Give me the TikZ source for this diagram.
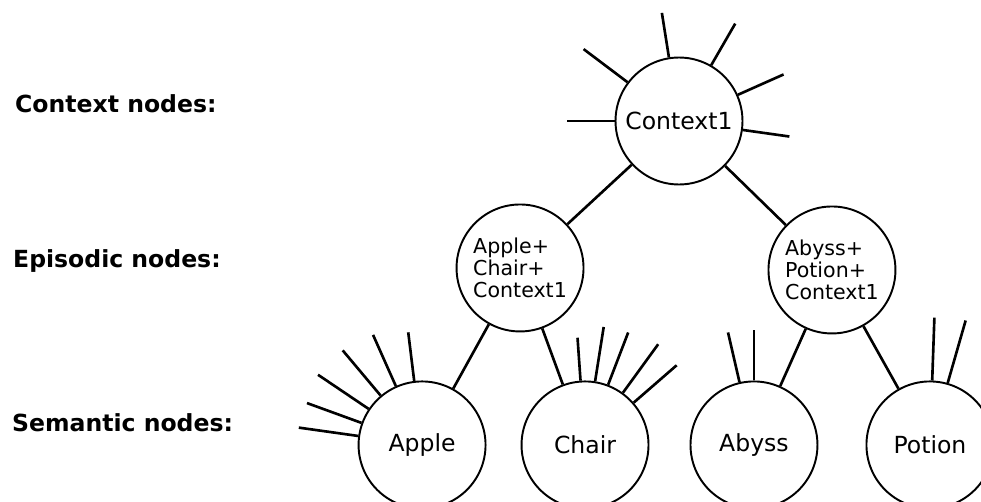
\documentclass[tikz,border=0pt]{standalone}
\usepackage{fontspec}
\setmainfont{DejaVu Sans}
\usetikzlibrary{positioning}

\tikzset{
  memnode/.style={circle, draw, line width=1.1pt, minimum size=2.54cm,
    inner sep=0pt, font=\fontsize{13.4}{16}\selectfont},
  epinode/.style={memnode, align=left, font=\fontsize{11.7}{12.4}\selectfont},
  link/.style={line width=1.5pt},
  layer/.style={anchor=base west, font=\bfseries\fontsize{13.4}{16}\selectfont},
}

\begin{document}
\begin{tikzpicture}[x=0.02cm, y=0.02cm, on grid]
   \useasboundingbox (0,0) rectangle (981,501);

   % layer captions
   \node[layer] (lctx) at (9,388) {Context nodes:};
   \node[layer] (lepi) at (7,234) {Episodic nodes:};
   \node[layer] (lsem) at (6,70) {Semantic nodes:};

   \node[memnode] (ctx) at (679,380) {Context1};

   \node[epinode, below left =2.94cm and 3.18cm of ctx] (e1) {Apple+\\Chair+\\Context1};
   \node[epinode, below right=2.98cm and 3.06cm of ctx] (e2) {Abyss+\\Potion+\\Context1};

   \node[memnode, below left =3.54cm and 1.96cm of e1] (apple) {Apple};
   \node[memnode, below right=3.54cm and 1.30cm of e1] (chair) {Chair};
   \node[memnode, below left =3.50cm and 1.56cm of e2] (abyss) {Abyss};
   \node[memnode, below right=3.50cm and 1.96cm of e2] (potion) {Potion};

   \draw[link] (ctx) -- (e1);
   \draw[link] (ctx) -- (e2);
   \draw[link] (e1) -- (apple);
   \draw[link] (e1) -- (chair);
   \draw[link] (e2) -- (abyss);
   \draw[link] (e2) -- (potion);

   % loose ends (angle/length)
   \foreach \a/\l in {99/45, 60/48, 24/50, 352/47, 143/55, 180/48}
      \draw[link] (ctx.\a) -- ++(\a:\l) coordinate (ctx-\a);
   \foreach \a/\l in {97/49, 114/56, 130/59, 146/61, 160/58, 172/60}
      \draw[link] (apple.\a) -- ++(\a:\l) coordinate (apple-\a);
   \foreach \a/\l in {94/43, 81/55, 69/56, 54/60, 41/57}
      \draw[link] (chair.\a) -- ++(\a:\l) coordinate (chair-\a);
   \foreach \a/\l in {103/51, 90/50}
      \draw[link] (abyss.\a) -- ++(\a:\l) coordinate (abyss-\a);
   \foreach \a/\l in {88/63, 74/65}
      \draw[link] (potion.\a) -- ++(\a:\l) coordinate (potion-\a);
\end{tikzpicture}
\end{document}
